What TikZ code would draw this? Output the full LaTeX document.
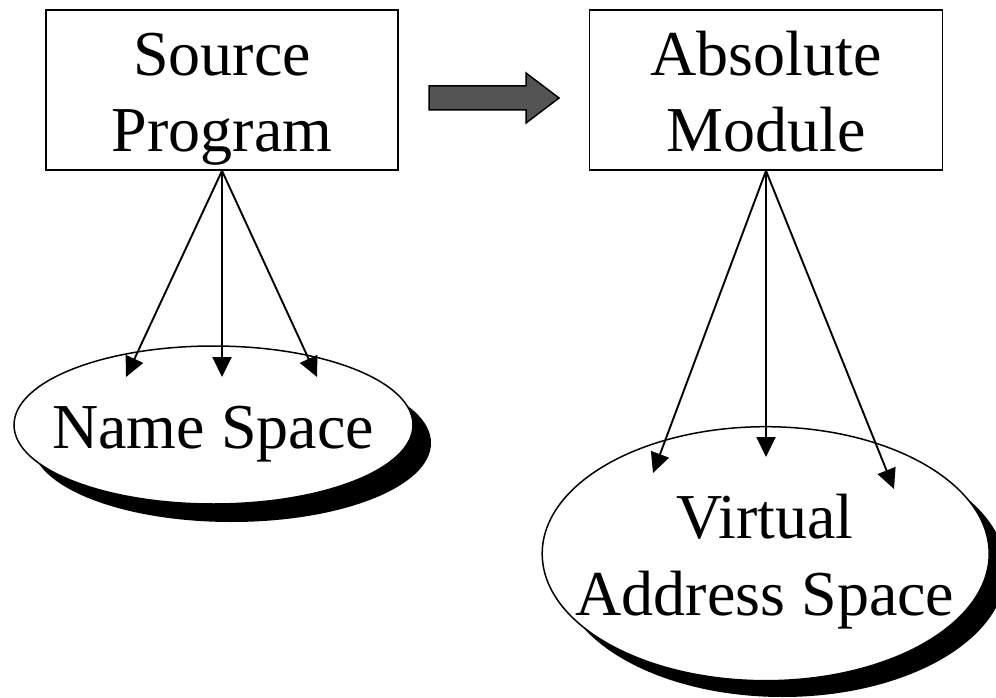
\documentclass[tikz,border=0pt]{standalone}
\usepackage{fontspec}
\setmainfont{Liberation Serif}
\usetikzlibrary{shapes.geometric,arrows.meta}
\begin{document}
\begin{tikzpicture}[x=1pt,y=-1pt,
  txt/.style={font=\fontsize{64}{77}\selectfont, align=center, inner sep=0pt},
  boxnode/.style={draw, line width=1.6pt, minimum height=160pt, inner sep=0pt, fill=white},
  ell/.style={ellipse, draw, line width=1.5pt, fill=white, inner sep=0pt},
  shadow/.style={ellipse, fill=black, inner sep=0pt},
  conn/.style={line width=1.9pt, -{Triangle[length=20pt,width=19pt]}},
  blockarrow/.style={fill=black!67, draw=black, line width=1.5pt, line join=miter}
]
\useasboundingbox (0,0) rectangle (996,698);

% boxes
\node[boxnode, minimum width=352pt] (src) at (222,90) {};
\node[txt, anchor=base] (srct) at (222,152) {Source\\Program};
\node[boxnode, minimum width=353pt] (abs) at (766,90) {};
\node[txt, anchor=base] (abst) at (766,152) {Absolute\\Module};

% block arrow
\draw[blockarrow] (429,86) -- (526,86) -- (526,73) -- (559,98) -- (526,123) -- (526,110) -- (429,110) -- cycle;

% ellipse 1
\node[shadow, minimum width=399pt, minimum height=158pt] (ns) at (231.5,443) {};
\node[ell, minimum width=399pt, minimum height=158pt] (n) at (213.5,425) {};
\node[txt, anchor=base] (nt) at (213,448) {Name Space};

% ellipse 2
\node[shadow, minimum width=447pt, minimum height=254pt] (vs) at (782.5,570) {};
\node[ell, minimum width=447pt, minimum height=254pt] (v) at (765.7,553.7) {};
\node[txt, anchor=base] (vt) at (765,615) {Virtual\\Address Space};

% arrow tips
\coordinate (a1) at (126,377);
\coordinate (a2) at (222,377);
\coordinate (a3) at (317,377);
\coordinate (b1) at (653,473);
\coordinate (b2) at (766,457);
\coordinate (b3) at (894,489);

\draw[conn] (src.south) -- (a1);
\draw[conn] (src.south) -- (a2);
\draw[conn] (src.south) -- (a3);
\draw[conn] (abs.south) -- (b1);
\draw[conn] (abs.south) -- (b2);
\draw[conn] (abs.south) -- (b3);
\end{tikzpicture}
\end{document}
